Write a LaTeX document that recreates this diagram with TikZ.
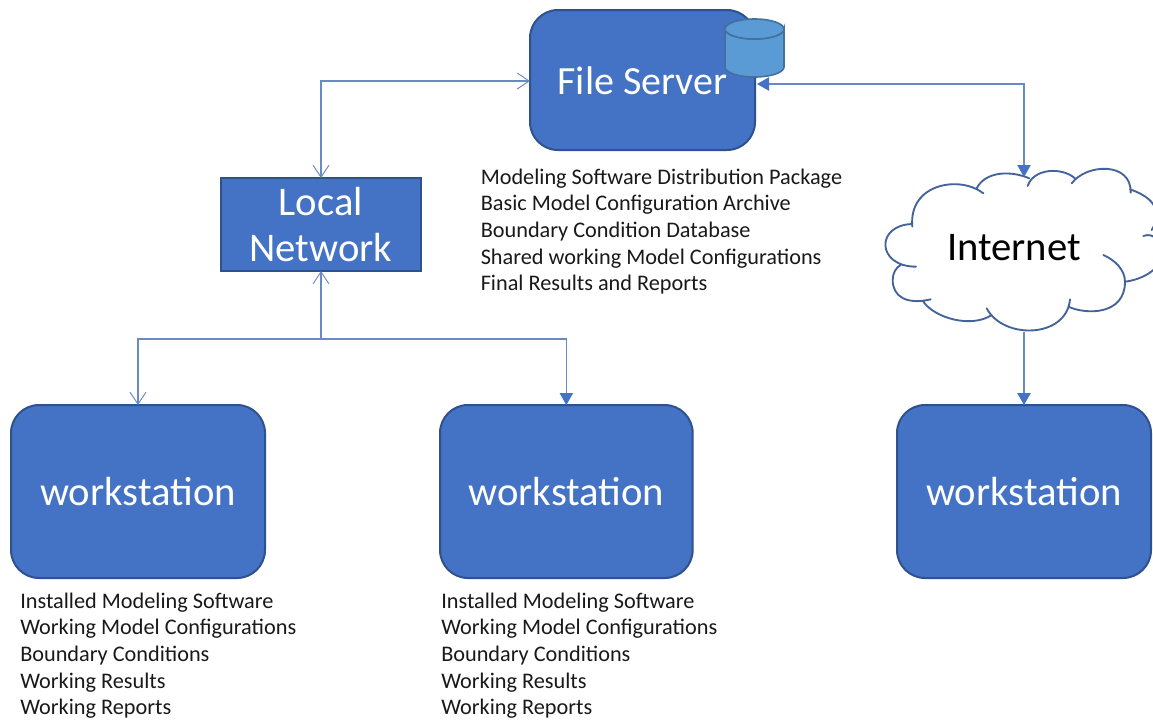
\documentclass[tikz,border=0pt]{standalone}
\usepackage{fontspec}
\setmainfont{Carlito}
\usetikzlibrary{arrows.meta,shapes.geometric}
\definecolor{boxfill}{HTML}{4472C4}
\definecolor{boxline}{HTML}{2F528F}
\definecolor{cylfill}{HTML}{5B9BD5}
\definecolor{cylline}{HTML}{41719C}
\definecolor{wire}{HTML}{6A8AC6}
\tikzset{
  x=0.75pt,y=-0.75pt,
  roundbox/.style={draw=boxline,fill=boxfill,line width=1.5pt,rounded corners=21pt,text=white,font=\fontsize{30.5}{35}\selectfont,inner sep=0pt,outer sep=0pt,anchor=north west,align=center},
  netbox/.style={draw=boxline,fill=boxfill,line width=1.5pt,text=white,font=\fontsize{30.5}{35}\selectfont,inner sep=0pt,outer sep=0pt,anchor=north west,align=center},
  notes/.style={font=\fontsize{16.7}{20}\selectfont,text=black!90,inner sep=0pt,anchor=north west,align=left},
  wireline/.style={draw=wire,line width=0.85pt},
  cloudline/.style={draw=boxline!90!white,line width=1.4pt,line cap=round},
}
\begin{document}
\begin{tikzpicture}
\useasboundingbox (0,0) rectangle (1153,719);
\fill[white] (0,0) rectangle (1153,719);

% boxes
\node[roundbox,minimum width=168.75pt,minimum height=105pt] (server) at (530,10) {};
\node[font=\fontsize{30}{35}\selectfont,text=white,inner sep=0pt] (servertext) at (642.5,81) {File Server};
\node[netbox,minimum width=150pt,minimum height=69.75pt] (net) at (221,178) {Local\\Network};
\node[roundbox,minimum width=190.5pt,minimum height=129.75pt] (ws1) at (11,405) {workstation};
\node[roundbox,minimum width=189.5pt,minimum height=129.75pt] (ws2) at (440,405) {workstation};
\node[roundbox,minimum width=190.5pt,minimum height=129.75pt] (ws3) at (897,405) {workstation};

% database cylinder
\path[draw=cylline,fill=cylfill,line width=1.2pt]
  (725,29) -- (725,67) arc[start angle=180,end angle=360,x radius=29.5,y radius=-10] -- (784,29)
  arc[start angle=0,end angle=-180,x radius=29.5,y radius=-10] -- cycle;
\node[ellipse,draw=cylline,fill=cylfill,line width=1.2pt,minimum width=44.25pt,minimum height=15pt,inner sep=0pt] (db) at (754.5,29) {};

% cloud
\begin{scope}[shift={(870,70)},x=0.25pt,y=-0.25pt]
\draw[cloudline]
  (138,590) .. controls (20,590) and (15,465) .. (127,462)
  (182,688) .. controls (110,705) and (68,680) .. (68,630) .. controls (68,610) and (78,592) .. (92,585)
  (160,695) .. controls (195,745) and (305,775) .. (365,735)
  (350,715) .. controls (400,810) and (590,805) .. (600,688)
  (595,710) .. controls (650,735) and (765,735) .. (765,635) .. controls (765,600) and (735,570) .. (700,555)
  (765,635) .. controls (810,630) and (880,600) .. (880,540) .. controls (880,520) and (850,485) .. (820,498)
  (780,358) .. controls (860,385) and (875,430) .. (845,480)
  (782,368) .. controls (785,275) and (650,280) .. (605,340)
  (615,325) .. controls (575,290) and (490,295) .. (473,348)
  (478,325) .. controls (420,300) and (345,305) .. (320,355)
  (340,370) .. controls (270,315) and (115,340) .. (127,470);
\end{scope}
\node[font=\fontsize{30.5}{35}\selectfont,text=black,inner sep=0pt] (inet) at (1014,248) {Internet};
\coordinate (inettop) at (1024,177);
\coordinate (inetbot) at (ws3.north |- 0,332);
\coordinate (serverport) at (757,84);
\coordinate (serverleft) at (530,81);
\coordinate (bus) at (net.south |- 0,339);

% connectors
\draw[wireline,{Straight Barb[length=9pt,width=12pt,line width=0.7pt]}-{Straight Barb[length=9pt,width=12pt,line width=0.7pt]}]
  (net.north) |- (serverleft);
\draw[wireline,{Triangle[length=9pt,width=10pt,color=boxfill]}-{Triangle[length=9pt,width=10pt,color=boxfill]}]
  (serverport) -| (inettop);
\draw[wireline,{Straight Barb[length=9pt,width=12pt,line width=0.7pt]}-] (net.south) -- (bus);
\draw[wireline,-{Straight Barb[length=9pt,width=12pt,line width=0.7pt]}] (bus) -| (ws1.north);
\draw[wireline,-{Triangle[length=9pt,width=10pt,color=boxfill]}] (bus) -| (ws2.north);
\draw[wireline,-{Triangle[length=9pt,width=10pt,color=boxfill]}] (inetbot) -- (ws3.north);

% notes
\node[notes] (n0) at (480.5,168.5) {Modeling Software Distribution Package\\Basic Model Configuration Archive\\Boundary Condition Database\\Shared working Model Configurations\\Final Results and Reports};
\node[notes] (n1) at (20,592.5) {Installed Modeling Software\\Working Model Configurations\\Boundary Conditions\\Working Results\\Working Reports};
\node[notes] (n2) at (441,592.5) {Installed Modeling Software\\Working Model Configurations\\Boundary Conditions\\Working Results\\Working Reports};
\end{tikzpicture}
\end{document}
